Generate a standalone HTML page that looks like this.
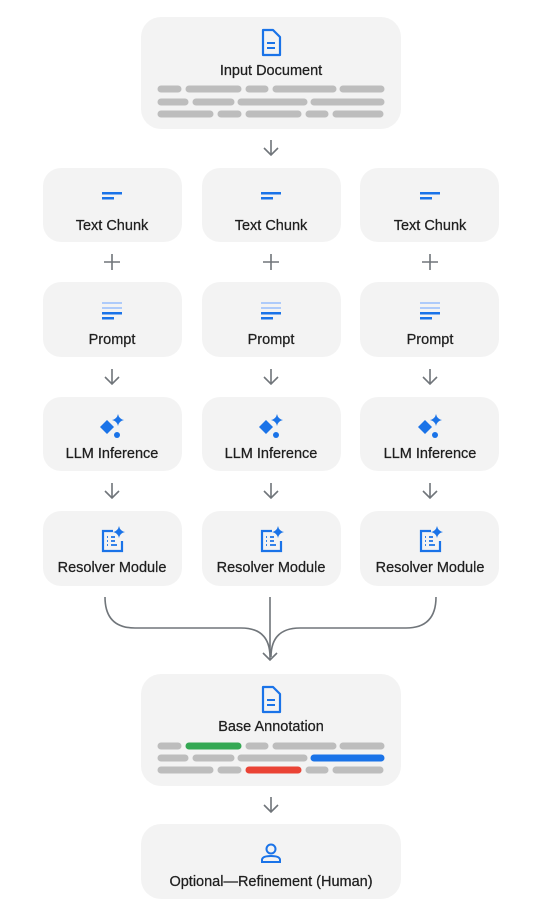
<!DOCTYPE html>
<html><head><meta charset="utf-8"><style>
html,body{margin:0;padding:0;background:#fff;width:534px;height:918px;overflow:hidden}
svg text{font-family:"Liberation Sans",sans-serif;font-size:14.5px;fill:#1f1f1f;text-anchor:middle;stroke:#1f1f1f;stroke-width:0.25px}
</style></head><body>
<svg width="534" height="918" viewBox="0 0 534 918" xmlns="http://www.w3.org/2000/svg">
<defs>
<g id="doc"><path d="M-8,-12 h10 l7,7 v18 h-17 z" fill="none" stroke="#1a73e8" stroke-width="2.2" stroke-linejoin="round"/><path d="M-4,1 h8 M-4,6 h8" stroke="#1a73e8" stroke-width="2"/></g>
<g id="arrow"><path d="M0,-8 v15 M-7,0 l7,7 l7,-7" fill="none" stroke="#70757a" stroke-width="1.6"/></g>
<g id="plus"><path d="M0,-8 v16 M-8,0 h16" stroke="#70757a" stroke-width="1.6"/></g>
<g id="chunk"><rect x="-10" y="-4" width="20" height="2.5" fill="#1a73e8"/><rect x="-10" y="1" width="12" height="2.5" fill="#1a73e8"/></g>
<g id="prompt"><rect x="-10" y="-10" width="20" height="2" fill="#aecbfa"/><rect x="-10" y="-5" width="20" height="2" fill="#aecbfa"/><rect x="-10" y="0" width="20" height="2.5" fill="#1a73e8"/><rect x="-10" y="5" width="12" height="2.5" fill="#1a73e8"/></g>
<g id="spark"><path d="M-5,-7 l7,7 l-7,7 l-7,-7 z" fill="#1a73e8"/><path d="M6,-13 q1,5 6,6 q-5,1 -6,6 q-1,-5 -6,-6 q5,-1 6,-6z" fill="#1a73e8"/><circle cx="5" cy="8" r="3" fill="#1a73e8"/></g>
<g id="resolver"><path d="M2,-9 h-10 v20 h19 v-10" fill="none" stroke="#1a73e8" stroke-width="2.2"/><path d="M-4,-3 h1 M0,-3 h4 M-4,1 h1 M0,1 h4 M-4,5 h1 M0,5 h6" stroke="#1a73e8" stroke-width="1.8"/><path d="M8,-14 q1,5 6,6 q-5,1 -6,6 q-1,-5 -6,-6 q5,-1 6,-6z" fill="#1a73e8"/></g>
</defs>
<g fill="#f3f3f3">
<rect x="141" y="17" width="260" height="112" rx="20"/>
<rect x="141" y="674" width="260" height="112" rx="20"/>
<rect x="141" y="824" width="260" height="75" rx="20"/>
</g>
<g fill="#f3f3f3">
<rect x="43" y="168" width="139" height="74" rx="18"/><rect x="202" y="168" width="139" height="74" rx="18"/><rect x="360" y="168" width="139" height="74" rx="18"/>
<rect x="43" y="282" width="139" height="75" rx="18"/><rect x="202" y="282" width="139" height="75" rx="18"/><rect x="360" y="282" width="139" height="75" rx="18"/>
<rect x="43" y="397" width="139" height="74" rx="18"/><rect x="202" y="397" width="139" height="74" rx="18"/><rect x="360" y="397" width="139" height="74" rx="18"/>
<rect x="43" y="511" width="139" height="75" rx="18"/><rect x="202" y="511" width="139" height="75" rx="18"/><rect x="360" y="511" width="139" height="75" rx="18"/>
</g>
<use href="#doc" x="271" y="42"/><text x="271" y="75">Input Document</text>
<g stroke="#bdbdbd" stroke-width="7" stroke-linecap="round">
<path d="M161,89h17M189,89h49M249,89h16M276,89h57M343,89h38"/>
<path d="M161,102h24M196,102h35M241,102h63M314,102h67"/>
<path d="M161,114h49M221,114h17M249,114h49M309,114h16M336,114h44"/>
</g>
<use href="#arrow" x="271" y="148"/>
<g>
<use href="#chunk" x="112" y="196"/><use href="#chunk" x="271" y="196"/><use href="#chunk" x="430" y="196"/>
<text x="112" y="230">Text Chunk</text><text x="271" y="230">Text Chunk</text><text x="430" y="230">Text Chunk</text>
<use href="#plus" x="112" y="262"/><use href="#plus" x="271" y="262"/><use href="#plus" x="430" y="262"/>
<use href="#prompt" x="112" y="312"/><use href="#prompt" x="271" y="312"/><use href="#prompt" x="430" y="312"/>
<text x="112" y="344">Prompt</text><text x="271" y="344">Prompt</text><text x="430" y="344">Prompt</text>
<use href="#arrow" x="112" y="377"/><use href="#arrow" x="271" y="377"/><use href="#arrow" x="430" y="377"/>
<use href="#spark" x="112" y="427"/><use href="#spark" x="271" y="427"/><use href="#spark" x="430" y="427"/>
<text x="112" y="458">LLM Inference</text><text x="271" y="458">LLM Inference</text><text x="430" y="458">LLM Inference</text>
<use href="#arrow" x="112" y="491"/><use href="#arrow" x="271" y="491"/><use href="#arrow" x="430" y="491"/>
<use href="#resolver" x="111" y="540"/><use href="#resolver" x="270" y="540"/><use href="#resolver" x="429" y="540"/>
<text x="112" y="572">Resolver Module</text><text x="271" y="572">Resolver Module</text><text x="430" y="572">Resolver Module</text>
</g>
<g fill="none" stroke="#70757a" stroke-width="1.6">
<path d="M105,597 q0,31 30,31 h106 q29,0 29,29 M436,597 q0,31 -30,31 h-106 q-29,0 -29,29 M270,597 v63"/>
<path d="M263,653 l7,7 l7,-7"/>
</g>
<use href="#doc" x="271" y="699"/><text x="271" y="731">Base Annotation</text>
<g stroke="#bdbdbd" stroke-width="7" stroke-linecap="round">
<path d="M161,746h17M249,746h16M276,746h57M343,746h38"/>
<path d="M161,758h24M196,758h35M241,758h63"/>
<path d="M161,770h49M221,770h17M309,770h16M336,770h44"/>
</g>
<path d="M189,746h49" stroke="#34a853" stroke-width="7" stroke-linecap="round"/>
<path d="M314,758h67" stroke="#1a73e8" stroke-width="7" stroke-linecap="round"/>
<path d="M249,770h49" stroke="#ea4335" stroke-width="7" stroke-linecap="round"/>
<use href="#arrow" x="271" y="805"/>
<g fill="none" stroke="#1a73e8" stroke-width="2"><circle cx="271" cy="849" r="4.5"/><path d="M262,862 v-2 q0,-4 9,-4 q9,0 9,4 v2 z"/></g>
<text x="271" y="886">Optional—Refinement (Human)</text>
</svg>
</body></html>
